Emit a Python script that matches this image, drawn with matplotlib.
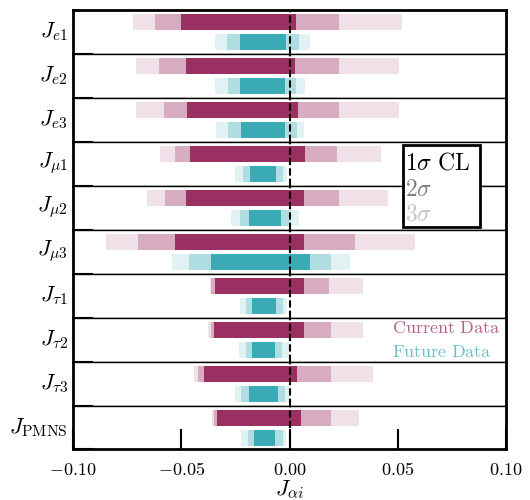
import numpy as np
import matplotlib
matplotlib.use('Agg')
import matplotlib.pyplot as plt
from matplotlib.patches import Rectangle
from matplotlib.ticker import FuncFormatter

plt.rcParams['mathtext.fontset'] = 'cm'
plt.rcParams['font.family'] = ['DejaVu Serif']

labels = [r'$J_{e1}$', r'$J_{e2}$', r'$J_{e3}$', r'$J_{\mu1}$', r'$J_{\mu2}$',
          r'$J_{\mu3}$', r'$J_{\tau1}$', r'$J_{\tau2}$', r'$J_{\tau3}$', r'$J_{\mathrm{PMNS}}$']

# current data intervals (lo, hi)
cur_1s = [(-0.0504, 0.0030), (-0.0481, 0.0025), (-0.0472, 0.0038), (-0.0458, 0.0070), (-0.0481, 0.0066),
          (-0.0530, 0.0066), (-0.0344, 0.0066), (-0.0349, 0.0066), (-0.0395, 0.0035), (-0.0335, 0.0052)]
cur_2s = [(-0.0623, 0.0230), (-0.0604, 0.0230), (-0.0581, 0.0230), (-0.0530, 0.0221), (-0.0577, 0.0230),
          (-0.0700, 0.0303), (-0.0361, 0.0184), (-0.0363, 0.0189), (-0.0421, 0.0189), (-0.0350, 0.0193)]
cur_3s = [(-0.0723, 0.0521), (-0.0709, 0.0503), (-0.0709, 0.0503), (-0.0600, 0.0420), (-0.0658, 0.0453),
          (-0.0849, 0.0580), (-0.0367, 0.0339), (-0.0376, 0.0339), (-0.0440, 0.0383), (-0.0358, 0.0321)]

# future data intervals (lo, hi)
fut_1s = [(-0.0230, -0.0016), (-0.0230, -0.0021), (-0.0225, -0.0021), (-0.0181, -0.0062), (-0.0186, -0.0039),
          (-0.0363, 0.0093), (-0.0172, -0.0062), (-0.0172, -0.0067), (-0.0189, -0.0053), (-0.0166, -0.0067)]
fut_2s = [(-0.0290, 0.0041), (-0.0286, 0.0030), (-0.0286, 0.0033), (-0.0216, -0.0030), (-0.0230, 0.0002),
          (-0.0463, 0.0193), (-0.0202, -0.0030), (-0.0202, -0.0035), (-0.0225, -0.0021), (-0.0193, -0.0030)]
fut_3s = [(-0.0344, 0.0092), (-0.0344, 0.0073), (-0.0340, 0.0068), (-0.0253, -0.0010), (-0.0272, 0.0042),
          (-0.0544, 0.0279), (-0.0230, -0.0010), (-0.0233, -0.0005), (-0.0253, 0.0000), (-0.0225, -0.0016)]

xticks = [-0.1, -0.05, 0.0, 0.05, 0.1]

mag = np.array([0x9A, 0x2F, 0x62]) / 255
teal = np.array([0x3A, 0xAB, 0xB5]) / 255

def fade(c, a):
    return tuple(1 - a * (1 - c))

fig, axes = plt.subplots(10, 1, sharex=True, figsize=(5.3, 5), dpi=100)
fig.subplots_adjust(left=0.138, right=0.955, top=0.98, bottom=0.101, hspace=0)

n = len(labels)
for i, ax in enumerate(axes):
    for ints, a in [(cur_3s, 0.15), (cur_2s, 0.4), (cur_1s, 1.0)]:
        lo, hi = ints[i]
        ax.barh(0.725, hi - lo, left=lo, height=0.37, color=fade(mag, a), lw=0)
    for ints, a in [(fut_3s, 0.15), (fut_2s, 0.4), (fut_1s, 1.0)]:
        lo, hi = ints[i]
        ax.barh(0.27, hi - lo, left=lo, height=0.37, color=fade(teal, a), lw=0)
    ax.axvline(0, color='k', ls='--', lw=1.5, dashes=(3.5, 1.5), zorder=5)
    ax.set_ylim(0, 1)
    ax.set_xlim(-0.1, 0.1)
    ax.set_yticks([0])
    ax.set_yticklabels([])
    ax.tick_params(axis='y', direction='in', length=14.4, width=1.5)
    ax.text(-0.012, 0.5, labels[i], transform=ax.transAxes, ha='right', va='center', fontsize=16)
    for s in ['left', 'right']:
        ax.spines[s].set_linewidth(2)
    ax.spines['top'].set_linewidth(1)
    ax.spines['bottom'].set_linewidth(1)
    if i < n - 1:
        ax.tick_params(axis='x', length=0)

axes[0].spines['top'].set_linewidth(2)
axes[-1].spines['bottom'].set_linewidth(2)
axes[-1].set_xticks(xticks)
axes[-1].xaxis.set_major_formatter(FuncFormatter(lambda v, p: f'${v:.2f}$'))
axes[-1].tick_params(axis='x', direction='in', length=14.4, width=1.5, pad=8, labelsize=13)
axes[-1].set_xlabel(r'$J_{\alpha i}$', fontsize=16, labelpad=0)

# sigma key box
fig.add_artist(Rectangle((0.760, 0.5466), 0.146, 0.1634, transform=fig.transFigure,
                         facecolor='white', edgecolor='black', lw=2, zorder=5))
fig.text(0.764, 0.674, r'$1\sigma\ \mathrm{CL}$', color='black', fontsize=17, va='center', zorder=6)
fig.text(0.764, 0.622, r'$2\sigma$', color='#808080', fontsize=17, va='center', zorder=6)
fig.text(0.764, 0.572, r'$3\sigma$', color='#c4c4c4', fontsize=17, va='center', zorder=6)

fig.text(0.739, 0.344, r'$\mathrm{Current\ Data}$', color=fade(mag, 0.75), fontsize=13, va='center', zorder=6)
fig.text(0.739, 0.2966, r'$\mathrm{Future\ Data}$', color=fade(teal, 0.75), fontsize=13, va='center', zorder=6)

fig.savefig('out.png', dpi=100)
